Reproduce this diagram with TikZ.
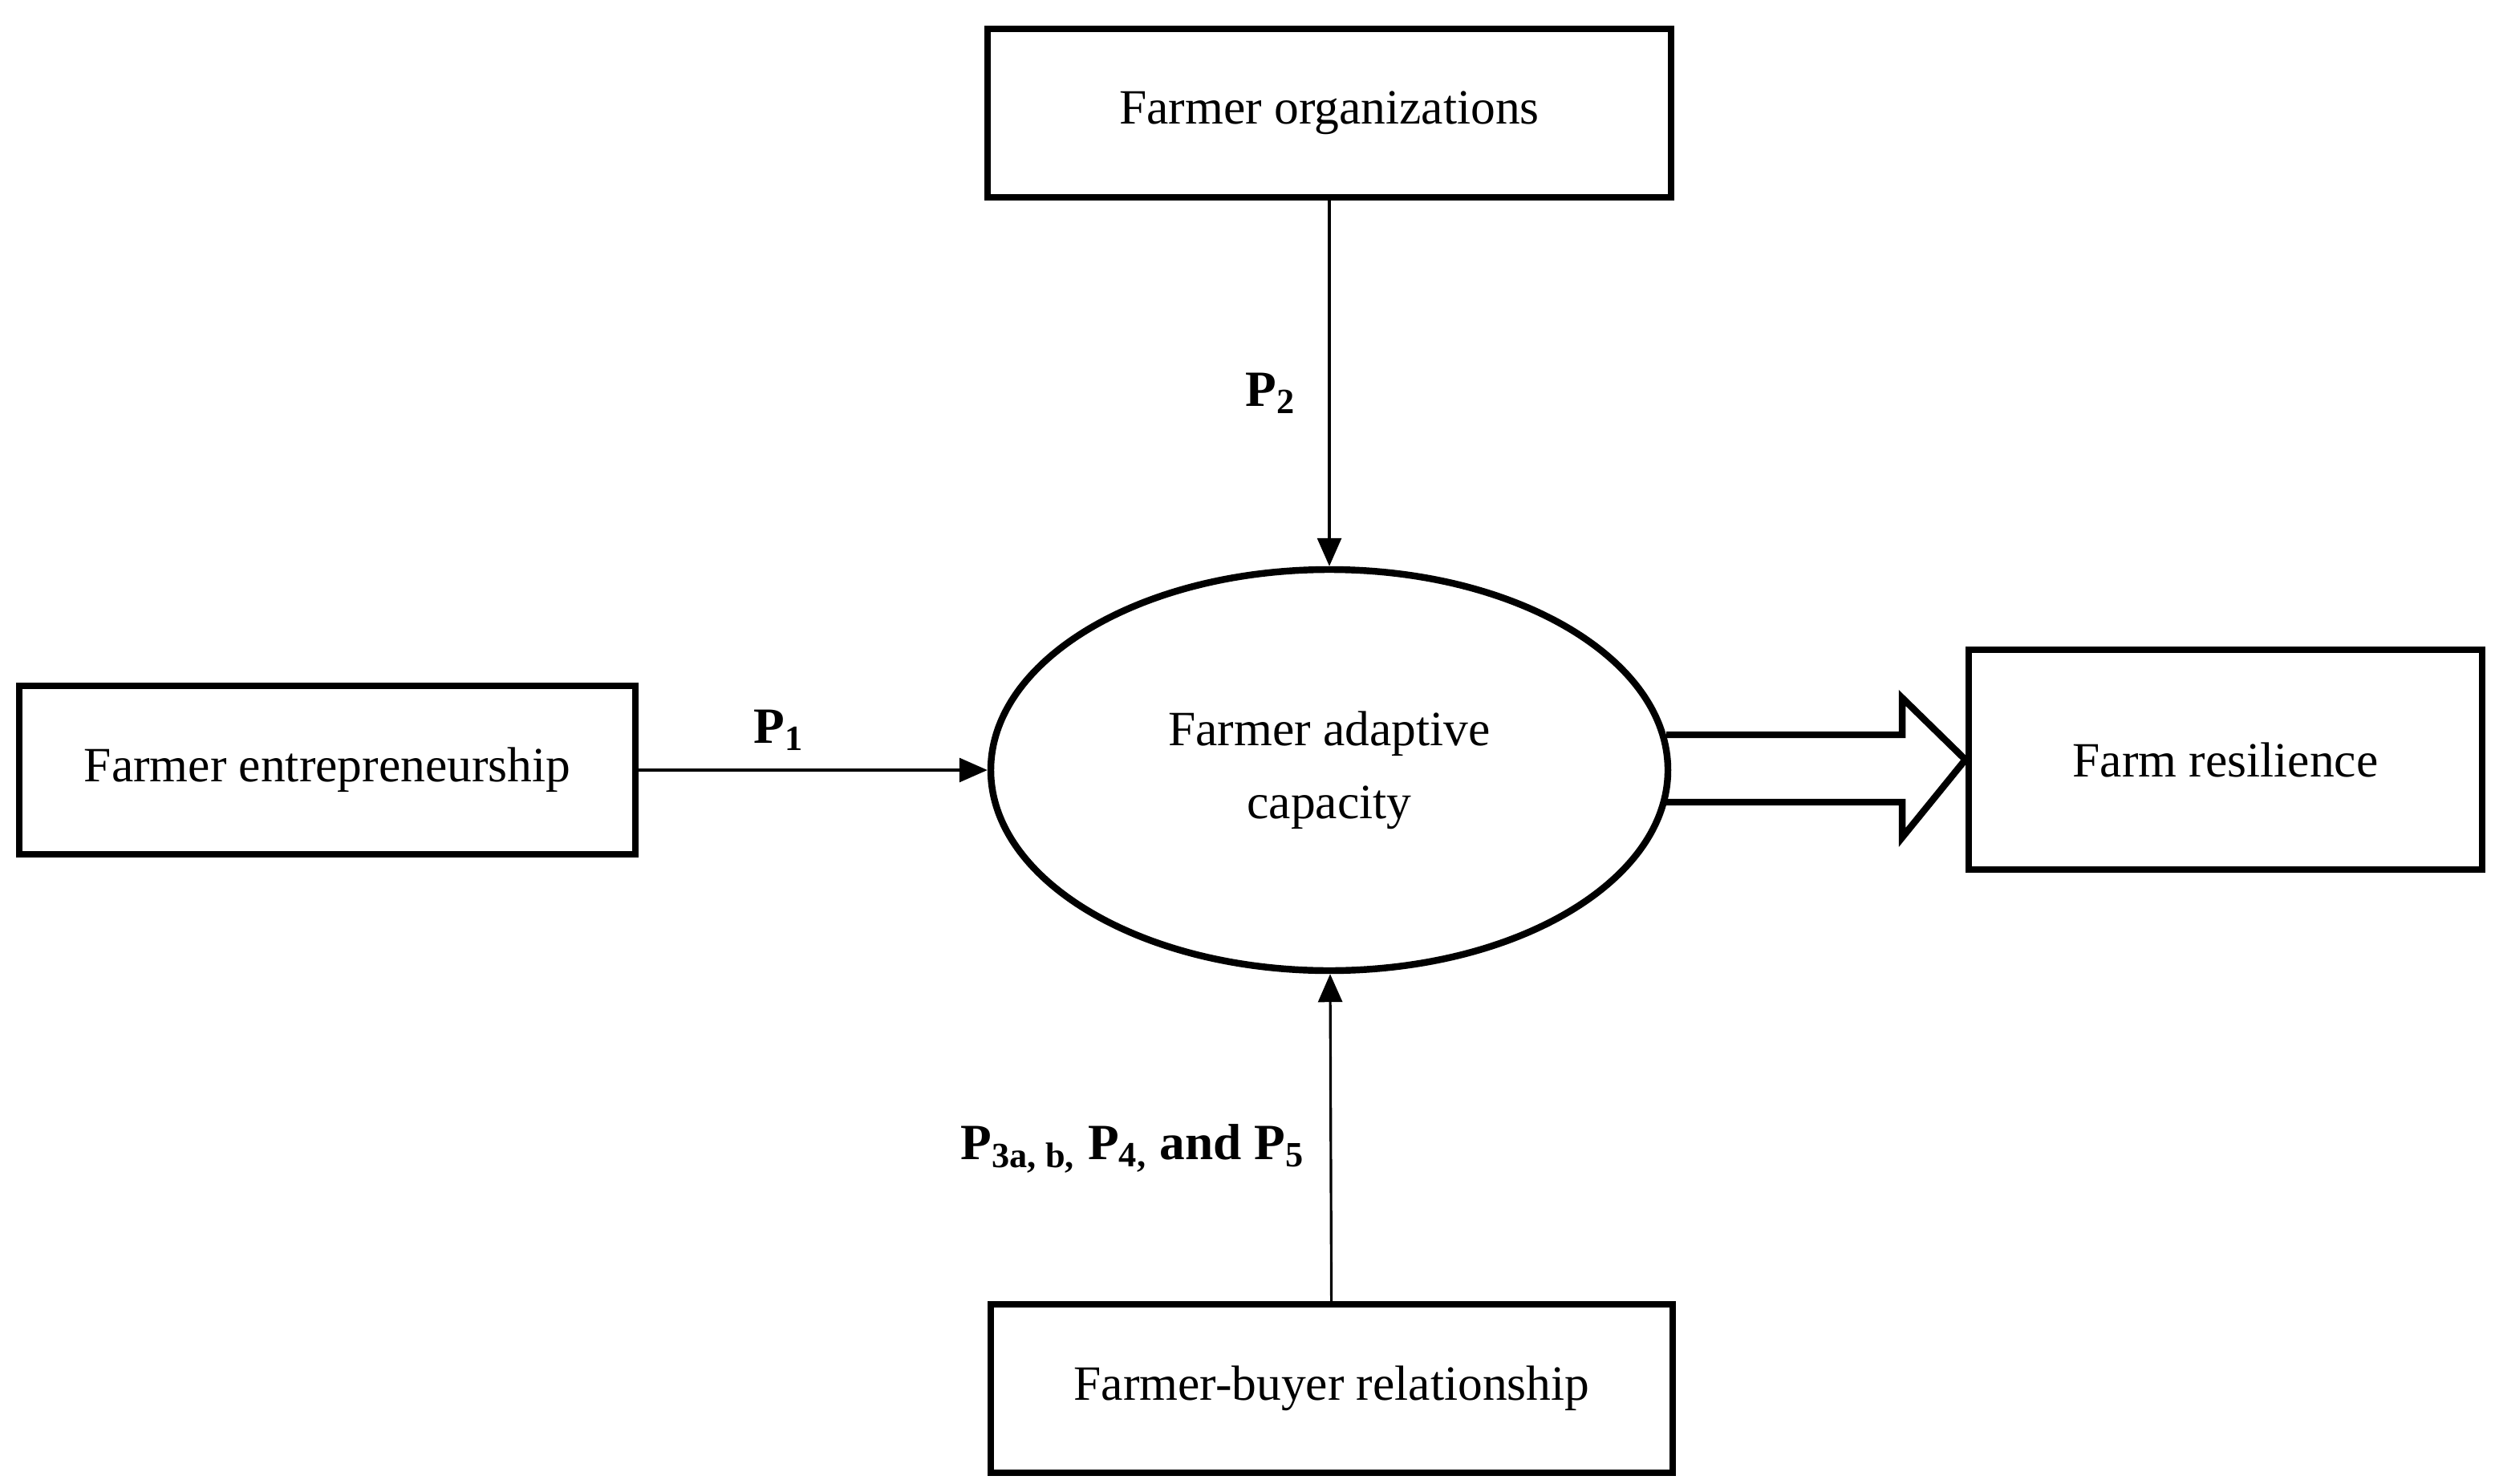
\documentclass[tikz,border=0pt]{standalone}
\usepackage{fontspec}
\setmainfont{Liberation Serif}
\usetikzlibrary{arrows.meta, shapes.geometric}

\tikzset{
    box/.style={draw, line width=2.4pt, minimum height=2.1cm, font=\fontsize{17.5}{20}\selectfont},
    link/.style={line width=0.9pt, -{Triangle[length=0.35cm, width=0.3cm]}},
    plabel/.style={font=\fontsize{18}{20}\selectfont\bfseries}
}

\begin{document}
\begin{tikzpicture}
    \useasboundingbox (0, 0) rectangle (31.1, 18.49);
    \node [box, minimum width=8.52cm] (org) at (16.57, 17.08) {Farmer organizations};
    \node [box, minimum width=7.68cm] (entre) at (4.08, 8.89) {Farmer entrepreneurship};
    \node [box, minimum width=6.4cm, minimum height=2.74cm] (resil) at (27.74, 9.02) {Farm resilience};
    \node [box, minimum width=8.5cm] (buyer) at (16.6, 1.18) {Farmer-buyer relationship};
    \node [draw, ellipse, line width=2.4pt, minimum width=8.44cm, minimum height=5cm,
        align=center, font=\fontsize{17.5}{22}\selectfont] (fac) at (16.57, 8.89)
        {Farmer adaptive\\[4pt]capacity};
    \draw [link] (org) -- (fac);
    \draw [link] (entre.east) -- (fac.west);
    \draw [link] (buyer) -- (fac);
    \node [plabel] (p1) at (9.71, 9.39) {P\textsubscript{1}};
    \node [plabel] (p2) at (15.84, 13.59) {P\textsubscript{2}};
    \node [plabel] (p3) at (14.12, 4.17) {P\textsubscript{3a, b,} P\textsubscript{4,} and P\textsubscript{5}};
    % hollow arrow to resilience
    \draw [line width=2.4pt, line join=miter]
        (20.77, 9.33) -- (23.71, 9.33) -- (23.71, 9.79) -- (resil.west)
        -- (23.71, 8.05) -- (23.71, 8.49) -- (20.77, 8.49);
\end{tikzpicture}
\end{document}
